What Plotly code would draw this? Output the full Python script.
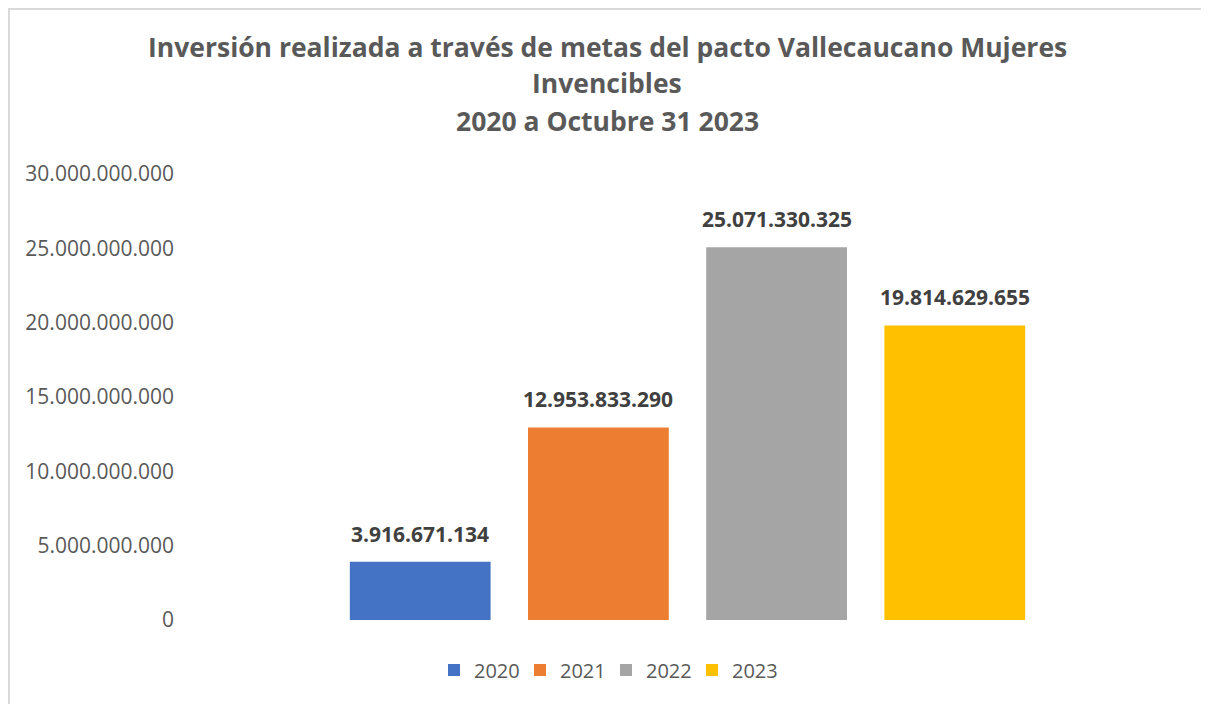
import plotly.graph_objects as go

years = ["2020", "2021", "2022", "2023"]
values = [3916671134, 12953833290, 25071330325, 19814629655]
colors = ["#4472C4", "#ED7D31", "#A5A5A5", "#FFC000"]
title_lines = [
    "Inversión realizada a través de metas del pacto Vallecaucano Mujeres",
    "Invencibles",
    "2020 a Octubre 31 2023",
]
y_ticks = [0, 5e9, 10e9, 15e9, 20e9, 25e9, 30e9]

FONT = "Open Sans"
W, H = 1209, 704
OFF = 8  # page body margin
# plot area in reference pixels: x 185..1190, y 174..620
L = 185 - OFF
R = W - (1190 - OFF)
T = 174 - OFF
B = H - (620 - OFF)
pw, ph = W - L - R, H - T - B


def px(p):
    return (p - OFF - L) / pw


def py(p):
    return (H - B - (p - OFF)) / ph


fig = go.Figure()
for i, (yr, v, c) in enumerate(zip(years, values, colors)):
    fig.add_trace(go.Bar(x=[yr], y=[v], name=yr, marker_color=c,
                         marker_line_width=0, width=0.79))
    fig.add_annotation(x=i, y=v, text="<b>" + f"{v:,}".replace(",", ".") + "</b>",
                       showarrow=False, yanchor="bottom", yshift=12,
                       font=dict(family=FONT, size=21, color="#404040"))

for line, ypx in zip(title_lines, [47, 83, 121]):
    fig.add_annotation(xref="paper", yref="paper", x=px(607), y=py(ypx),
                       xanchor="center", yanchor="middle", showarrow=False,
                       text="<b>" + line + "</b>",
                       font=dict(family=FONT, size=26.5, color="#595959"))

# outer chart border (clamped to the figure's own canvas)
fig.add_shape(type="rect", xref="paper", yref="paper",
              x0=px(OFF + 1), x1=px(1206), y0=py(730), y1=py(OFF + 1),
              line=dict(color="#D9D9D9", width=2), fillcolor="rgba(0,0,0,0)", layer="below")

fig.update_layout(
    width=W, height=H,
    margin=dict(l=L, r=R, t=T, b=B),
    paper_bgcolor="white", plot_bgcolor="white",
    separators=",.",
    barmode="relative",
    showlegend=True,
    legend=dict(orientation="h", x=px(606), xanchor="center", y=py(670), yanchor="middle",
                font=dict(family=FONT, size=20, color="#595959"), itemwidth=30,
                entrywidth=41, entrywidthmode="pixels",
                traceorder="normal"),
    xaxis=dict(type="category", range=[-1.32, 4.32], showticklabels=False,
               showgrid=False, zeroline=False, showline=False, ticks=""),
    yaxis=dict(range=[0, 30e9], tickvals=y_ticks, tickformat=",d", showgrid=False,
               zeroline=False, showline=False, ticks="", ticklabelstandoff=10,
               tickfont=dict(family=FONT, size=21, color="#595959")),
)

fig.write_html("out.html")
